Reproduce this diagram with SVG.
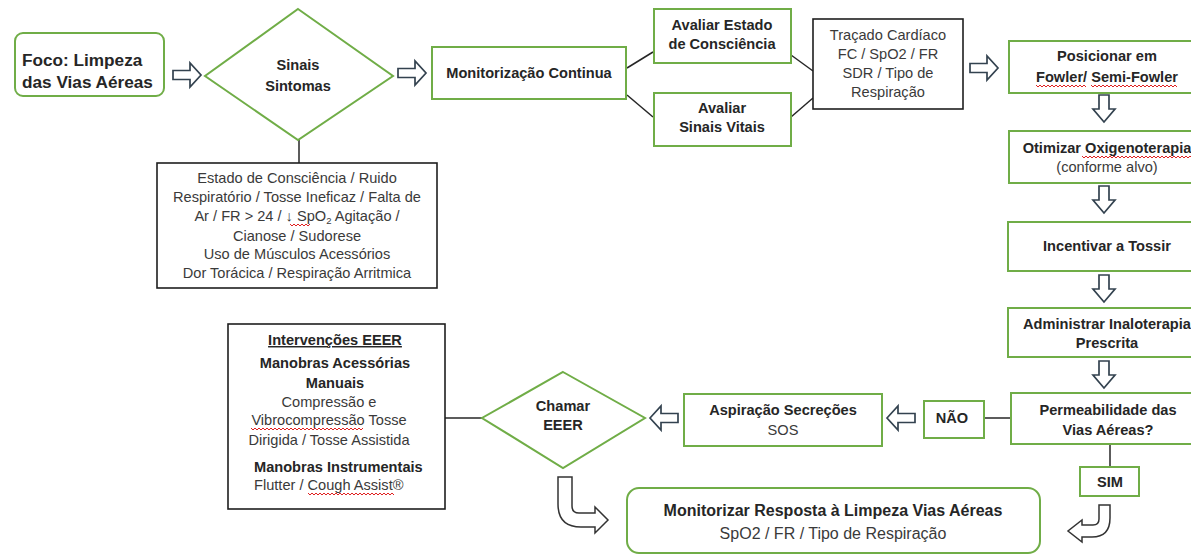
<svg xmlns="http://www.w3.org/2000/svg" width="1191" height="555" viewBox="0 0 1191 555">
<style>
.g{fill:#fff;stroke:#70AD47;stroke-width:2}
.k{fill:#fff;stroke:#1e1e1e;stroke-width:1.6}
.b{font-family:"Liberation Sans",Arial,sans-serif;font-weight:bold;font-size:14.6px;fill:#262626;text-anchor:middle}
.r{font-family:"Liberation Sans",Arial,sans-serif;font-size:14.6px;fill:#3a3a3a;text-anchor:middle}
.ln{stroke:#262626;stroke-width:1.5;fill:none}
.ba{fill:#fff;stroke:#33424F;stroke-width:1.7;stroke-linejoin:miter}
.ca{fill:#fff;stroke:#333;stroke-width:1.5}
.sq{fill:none;stroke:#E02020;stroke-width:1}
</style>
<defs>
<path id="ar" d="M0,-4.5 H17 V-12 L28,0 L17,12 V4.5 H0 Z"/>
<path id="al" d="M0,0 L11,-12 V-4.5 H28 V4.5 H11 V12 Z"/>
<path id="ad" d="M-5,0 H5 V14 H11 L0,27 L-11,14 H-5 Z"/>
</defs>

<g id="connectors">
<line class="ln" x1="299" y1="140" x2="299" y2="163"/>
<line class="ln" x1="627" y1="68" x2="653" y2="52"/>
<line class="ln" x1="627" y1="95" x2="653" y2="117"/>
<line class="ln" x1="791" y1="55" x2="813" y2="71"/>
<line class="ln" x1="791" y1="117" x2="813" y2="98"/>
<line class="ln" x1="983" y1="418" x2="1011" y2="418"/>
<line class="ln" x1="1110" y1="444" x2="1110" y2="467"/>
<line class="ln" x1="445" y1="418" x2="482" y2="418"/>
<use href="#ar" class="ba" x="173" y="75"/>
<use href="#ar" class="ba" x="398" y="73"/>
<use href="#ar" class="ba" x="970" y="68"/>
<use href="#al" class="ba" x="887" y="418"/>
<use href="#al" class="ba" x="650" y="418"/>
<use href="#ad" class="ba" x="1104" y="95"/>
<use href="#ad" class="ba" x="1104" y="186"/>
<use href="#ad" class="ba" x="1104" y="275"/>
<use href="#ad" class="ba" x="1104" y="361"/>
<path class="ca" d="M558,477 H572 V506 Q572,513 579,513 H595 V507 L608,520 L595,533 V527 H581 Q558,527 558,504 Z"/>
<path class="ca" d="M1110,505 H1099 V519 Q1099,525 1093,525 H1082 V520 L1068,531 L1082,542 V537 H1092 Q1110,537 1110,518 Z"/>
</g>

<g id="foco">
<rect class="g" x="15" y="33" width="149" height="63" rx="8"/>
<text class="b" style="font-size:17.2px;text-anchor:start" x="22" y="66">Foco: Limpeza</text>
<text class="b" style="font-size:17.2px;text-anchor:start" x="22" y="88">das Vias Aéreas</text>
</g>

<g id="sinais">
<polygon class="g" points="298,9 393,76 298,140 205,76"/>
<text class="b" x="298" y="70">Sinais</text>
<text class="b" x="298" y="91">Sintomas</text>
</g>

<g id="estado">
<rect class="k" x="157" y="163" width="280" height="125"/>
<text class="r" x="297" y="183">Estado de Consciência / Ruido</text>
<text class="r" x="297" y="202">Respiratório / Tosse Ineficaz / Falta de</text>
<text class="r" x="297" y="221">Ar / FR &gt; 24 / ↓ SpO<tspan font-size="9.5" dy="3">2</tspan><tspan dy="-3"> Agitação /</tspan></text>
<text class="r" x="297" y="241">Cianose / Sudorese</text>
<text class="r" x="297" y="259">Uso de Músculos Acessórios</text>
<text class="r" x="297" y="278">Dor Torácica / Respiração Arritmica</text>
<polyline class="sq" points="290,224 292,226 294,224 296,226 298,224 300,226 302,224 304,226 306,224 308,226 310,224"/>
</g>

<g id="monitorizacao">
<rect class="g" x="432" y="47" width="194" height="52"/>
<text class="b" x="529" y="78">Monitorização Continua</text>
</g>

<g id="avaliar-estado">
<rect class="g" x="654" y="9" width="137" height="54"/>
<text class="b" x="722" y="30">Avaliar Estado</text>
<text class="b" x="722" y="49">de Consciência</text>
</g>

<g id="avaliar-sinais">
<rect class="g" x="654" y="93" width="137" height="53"/>
<text class="b" x="722" y="113">Avaliar</text>
<text class="b" x="722" y="132">Sinais Vitais</text>
</g>

<g id="tracado">
<rect class="k" x="813" y="19" width="150" height="90"/>
<text class="r" x="888" y="40">Traçado Cardíaco</text>
<text class="r" x="888" y="59">FC / SpO2 / FR</text>
<text class="r" x="888" y="78">SDR / Tipo de</text>
<text class="r" x="888" y="97">Respiração</text>
</g>

<g id="posicionar">
<rect class="g" x="1009" y="41" width="197" height="52"/>
<text class="b" x="1107" y="61">Posicionar em</text>
<text class="b" x="1107" y="82">Fowler/ Semi-Fowler</text>
<polyline class="sq" points="1036,85 1038,87 1040,85 1042,87 1044,85 1046,87 1048,85 1050,87 1052,85 1054,87 1056,85 1058,87 1060,85 1062,87 1064,85 1066,87 1068,85 1070,87 1072,85 1074,87 1076,85 1078,87 1080,85 1082,87 1084,85 1086,87"/>
<polyline class="sq" points="1091,85 1093,87 1095,85 1097,87 1099,85 1101,87 1103,85 1105,87 1107,85 1109,87 1111,85 1113,87 1115,85 1117,87 1119,85 1121,87 1123,85 1125,87 1127,85 1129,87 1131,85 1133,87 1135,85 1137,87 1139,85 1141,87 1143,85 1145,87 1147,85 1149,87 1151,85 1153,87 1155,85 1157,87 1159,85 1161,87 1163,85 1165,87 1167,85 1169,87 1171,85 1173,87 1175,85 1177,87"/>
</g>

<g id="otimizar">
<rect class="g" x="1009" y="131" width="197" height="52"/>
<text class="b" x="1107" y="153">Otimizar Oxigenoterapia</text>
<text class="r" x="1107" y="172">(conforme alvo)</text>
<polyline class="sq" points="1082,156 1084,158 1086,156 1088,158 1090,156 1092,158 1094,156 1096,158 1098,156 1100,158 1102,156 1104,158 1106,156 1108,158 1110,156 1112,158 1114,156 1116,158 1118,156 1120,158 1122,156 1124,158 1126,156 1128,158 1130,156 1132,158 1134,156 1136,158 1138,156 1140,158 1142,156 1144,158 1146,156 1148,158 1150,156 1152,158 1154,156 1156,158 1158,156 1160,158 1162,156 1164,158 1166,156 1168,158 1170,156 1172,158 1174,156 1176,158 1178,156 1180,158 1182,156 1184,158 1186,156 1188,158 1190,156 1192,158"/>
</g>

<g id="incentivar">
<rect class="g" x="1008" y="222" width="198" height="49"/>
<text class="b" x="1107" y="251">Incentivar a Tossir</text>
</g>

<g id="administrar">
<rect class="g" x="1008" y="308" width="198" height="49"/>
<text class="b" x="1107" y="329">Administrar Inaloterapia</text>
<text class="b" x="1107" y="348">Prescrita</text>
</g>

<g id="permeabilidade">
<rect class="g" x="1011" y="393" width="195" height="51"/>
<text class="b" x="1108" y="415">Permeabilidade das</text>
<text class="b" x="1108" y="435">Vias Aéreas?</text>
</g>

<g id="nao">
<rect class="g" x="924" y="401" width="60" height="37"/>
<text class="b" x="952" y="423">NÃO</text>
</g>

<g id="sim">
<rect class="g" x="1080" y="467" width="59" height="29"/>
<text class="b" x="1110" y="487">SIM</text>
</g>

<g id="aspiracao">
<rect class="g" x="684" y="394" width="198" height="52"/>
<text class="b" x="783" y="415">Aspiração Secreções</text>
<text class="r" x="783" y="435">SOS</text>
</g>

<g id="chamar">
<polygon class="g" points="563,372 645,418 563,468 482,418"/>
<text class="b" x="563" y="411">Chamar</text>
<text class="b" x="563" y="430">EEER</text>
</g>

<g id="intervencoes">
<rect class="k" x="228" y="324" width="217" height="185"/>
<text class="b" x="335" y="345" text-decoration="underline">Intervenções EEER</text>
<text class="b" x="335" y="368">Manobras Acessórias</text>
<text class="b" x="335" y="388">Manuais</text>
<text class="r" x="329" y="407">Compressão e</text>
<text class="r" x="329" y="425">Vibrocompressão Tosse</text>
<text class="r" x="329" y="445">Dirigida / Tosse Assistida</text>
<text class="b" x="254" y="472" style="text-anchor:start">Manobras Instrumentais</text>
<text class="r" x="254" y="490" style="text-anchor:start">Flutter / Cough Assist®</text>
<polyline class="sq" points="251,428 253,430 255,428 257,430 259,428 261,430 263,428 265,430 267,428 269,430 271,428 273,430 275,428 277,430 279,428 281,430 283,428 285,430 287,428 289,430 291,428 293,430 295,428 297,430 299,428 301,430 303,428 305,430 307,428 309,430 311,428 313,430 315,428 317,430 319,428 321,430 323,428 325,430 327,428 329,430 331,428 333,430 335,428 337,430 339,428 341,430 343,428 345,430 347,428 349,430 351,428 353,430 355,428 357,430 359,428 361,430 363,428"/>
<polyline class="sq" points="308,493 310,495 312,493 314,495 316,493 318,495 320,493 322,495 324,493 326,495 328,493 330,495 332,493 334,495 336,493 338,495 340,493 342,495 344,493 346,495 348,493 350,495 352,493 354,495 356,493 358,495 360,493 362,495 364,493 366,495 368,493 370,495 372,493 374,495 376,493 378,495 380,493 382,495 384,493 386,495 388,493 390,495 392,493 394,495"/>
</g>

<g id="monitorizar-resposta">
<rect class="g" x="627" y="488" width="413" height="65" rx="12"/>
<text class="b" style="font-size:16px" x="833" y="516">Monitorizar Resposta à Limpeza Vias Aéreas</text>
<text class="r" style="font-size:16px" x="833" y="539">SpO2 / FR / Tipo de Respiração</text>
</g>
</svg>
